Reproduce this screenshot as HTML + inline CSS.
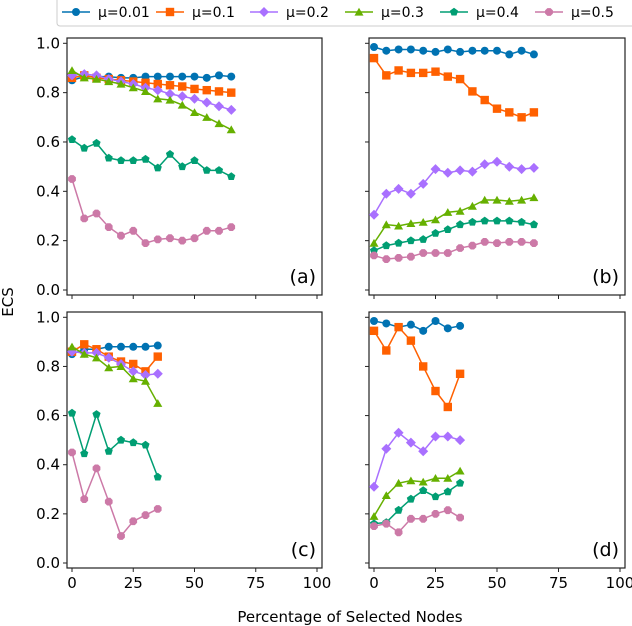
<!DOCTYPE html>
<html><head><meta charset="utf-8"><style>
body{margin:0;background:#fff;font-family:"DejaVu Sans",sans-serif}
svg{display:block}
text{font-family:"DejaVu Sans","Liberation Sans",sans-serif;fill:#000}
</style></head><body>
<svg id="chart" width="632" height="626" viewBox="0 0 632 626" xmlns="http://www.w3.org/2000/svg"></svg>
<script>
const seriesLabels=["μ=0.01","μ=0.1","μ=0.2","μ=0.3","μ=0.4","μ=0.5"];
const xLong=[0,5,10,15,20,25,30,35,40,45,50,55,60,65];
const xShort=[0,5,10,15,20,25,30,35];
const xTicks=[0,25,50,75,100];
const yTicks=[0,0.2,0.4,0.6,0.8,1.0];
const yTickLabels=["0.0","0.2","0.4","0.6","0.8","1.0"];
const panelA=[
[.85,.865,.865,.865,.86,.86,.865,.865,.865,.865,.865,.86,.87,.865],
[.86,.87,.86,.855,.85,.845,.84,.835,.83,.825,.815,.81,.805,.80],
[.87,.875,.87,.855,.845,.835,.82,.81,.795,.785,.775,.76,.745,.73],
[.89,.86,.855,.845,.835,.82,.805,.775,.77,.75,.72,.70,.675,.65],
[.61,.575,.595,.535,.525,.525,.53,.495,.55,.50,.525,.485,.485,.46],
[.45,.29,.31,.255,.22,.24,.19,.205,.21,.20,.21,.24,.24,.255]];
const panelB=[
[.985,.97,.975,.975,.97,.965,.975,.965,.97,.97,.97,.955,.97,.955],
[.94,.87,.89,.88,.88,.885,.865,.855,.805,.77,.735,.72,.70,.72],
[.305,.39,.41,.39,.43,.49,.475,.485,.48,.51,.52,.50,.49,.495],
[.19,.265,.26,.27,.275,.285,.315,.32,.34,.365,.365,.36,.365,.375],
[.16,.18,.19,.20,.205,.23,.245,.265,.275,.28,.28,.28,.275,.265],
[.14,.125,.13,.135,.15,.15,.15,.17,.18,.195,.19,.195,.195,.19]];
const panelC=[
[.85,.87,.87,.88,.88,.88,.88,.885],
[.86,.89,.87,.84,.82,.81,.78,.84],
[.86,.855,.855,.835,.81,.78,.765,.77],
[.88,.85,.835,.795,.80,.75,.74,.65],
[.61,.445,.605,.455,.50,.49,.48,.35],
[.45,.26,.385,.25,.11,.17,.195,.22]];
const panelD=[
[.985,.975,.96,.97,.945,.985,.955,.965],
[.945,.865,.96,.905,.80,.70,.635,.77],
[.31,.465,.53,.49,.455,.515,.515,.50],
[.19,.275,.325,.335,.33,.345,.345,.375],
[.16,.165,.215,.26,.295,.27,.29,.325],
[.15,.16,.125,.18,.18,.20,.215,.185]];
const colors=["#0072b2","#ff6000","#a970ff","#66b000","#009e73","#cc79a7"];
const markers=["circle","square","diamond","triangle","pentagon","octagon"];
const NS="http://www.w3.org/2000/svg";
const svg=document.getElementById("chart");
function mk(tag,attrs,parent){const e=document.createElementNS(NS,tag);for(const k in attrs)e.setAttribute(k,attrs[k]);(parent||svg).appendChild(e);return e;}
function poly(cx,cy,r,n,rot){let p=[];for(let i=0;i<n;i++){const a=rot+i*2*Math.PI/n;p.push((cx+r*Math.cos(a)).toFixed(1)+","+(cy+r*Math.sin(a)).toFixed(1));}return p.join(" ");}
function marker(type,cx,cy,color,parent,s){
  s=s||1;let e;
  if(type==="circle")e=mk("circle",{cx,cy,r:4*s,fill:color},parent);
  else if(type==="square")e=mk("rect",{x:cx-4.2*s,y:cy-4.2*s,width:8.4*s,height:8.4*s,fill:color},parent);
  else if(type==="diamond")e=mk("polygon",{points:poly(cx,cy,5*s,4,0),fill:color},parent);
  else if(type==="triangle")e=mk("polygon",{points:poly(cx,cy+1,5.2*s,3,-Math.PI/2),fill:color},parent);
  else if(type==="pentagon")e=mk("polygon",{points:poly(cx,cy,4.3*s,5,-Math.PI/2),fill:color},parent);
  else e=mk("polygon",{points:poly(cx,cy,4.2*s,8,Math.PI/8),fill:color},parent);
  return e;
}
const panels=[
 {name:"a",data:panelA,xs:xLong,L:67,T:38,R:322,B:295,showY:true,showX:false},
 {name:"b",data:panelB,xs:xLong,L:369,T:38,R:625,B:295,showY:false,showX:false},
 {name:"c",data:panelC,xs:xShort,L:67,T:312,R:322,B:568,showY:true,showX:true},
 {name:"d",data:panelD,xs:xShort,L:369,T:312,R:625,B:568,showY:false,showX:true}];
panels.forEach(p=>{
  const g=mk("g",{});
  
  
  const x0=p.L+5,x1=p.R-5,yTop=p.T+5.3,yBot=p.B-5;
  const sx=v=>x0+(x1-x0)*v/100;
  const sy=v=>yBot-(yBot-yTop)*v;
  mk("rect",{x:p.L,y:p.T,width:p.R-p.L,height:p.B-p.T,fill:"#fff",stroke:"#222","stroke-width":1.2},g);
  xTicks.forEach(t=>{
    mk("line",{x1:sx(t),x2:sx(t),y1:p.B,y2:p.B+4,stroke:"#222"},g);
    if(p.showX){const tx=mk("text",{x:sx(t),y:p.B+20,"text-anchor":"middle","font-size":15},g);tx.textContent=t;
      }
  });
  yTicks.forEach((t,i)=>{
    mk("line",{x1:p.L-4,x2:p.L,y1:sy(t),y2:sy(t),stroke:"#222"},g);
    if(p.showY){const ty=mk("text",{x:p.L-7,y:sy(t)+5,"text-anchor":"end","font-size":15},g);ty.textContent=yTickLabels[i];
      }
  });
  p.data.forEach((vals,si)=>{
    const sg=mk("g",{},g);
    
    
    mk("polyline",{points:vals.map((v,i)=>sx(p.xs[i])+","+sy(v)).join(" "),fill:"none",stroke:colors[si],"stroke-width":1.5},sg);
    vals.forEach((v,i)=>{const m=marker(markers[si],sx(p.xs[i]),sy(v),colors[si],sg);
      });
  });
  const lab=mk("text",{x:p.R-6,y:p.B-12,"text-anchor":"end","font-size":19},g);
  lab.textContent="("+p.name+")";
  
  
});
const lg=mk("g",{});


mk("rect",{x:57,y:-3,width:580,height:29,rx:3,fill:"#fff",stroke:"#ccc"},lg);
const lx=[62,156,250,345,440,535];
seriesLabels.forEach((s,i)=>{
  const eg=mk("g",{},lg);
  
  
  mk("line",{x1:lx[i],x2:lx[i]+28,y1:12,y2:12,stroke:colors[i],"stroke-width":1.5},eg);
  marker(markers[i],lx[i]+14,12,colors[i],eg);
  const t=mk("text",{x:lx[i]+36,y:17,"font-size":14},eg);t.textContent=s;
});
const yl=mk("text",{x:13,y:302,"text-anchor":"middle","font-size":15,transform:"rotate(-90 13 302)"});
yl.textContent="ECS";


const xl=mk("text",{x:350,y:622,"text-anchor":"middle","font-size":15});
xl.textContent="Percentage of Selected Nodes";


</script>
</body></html>
